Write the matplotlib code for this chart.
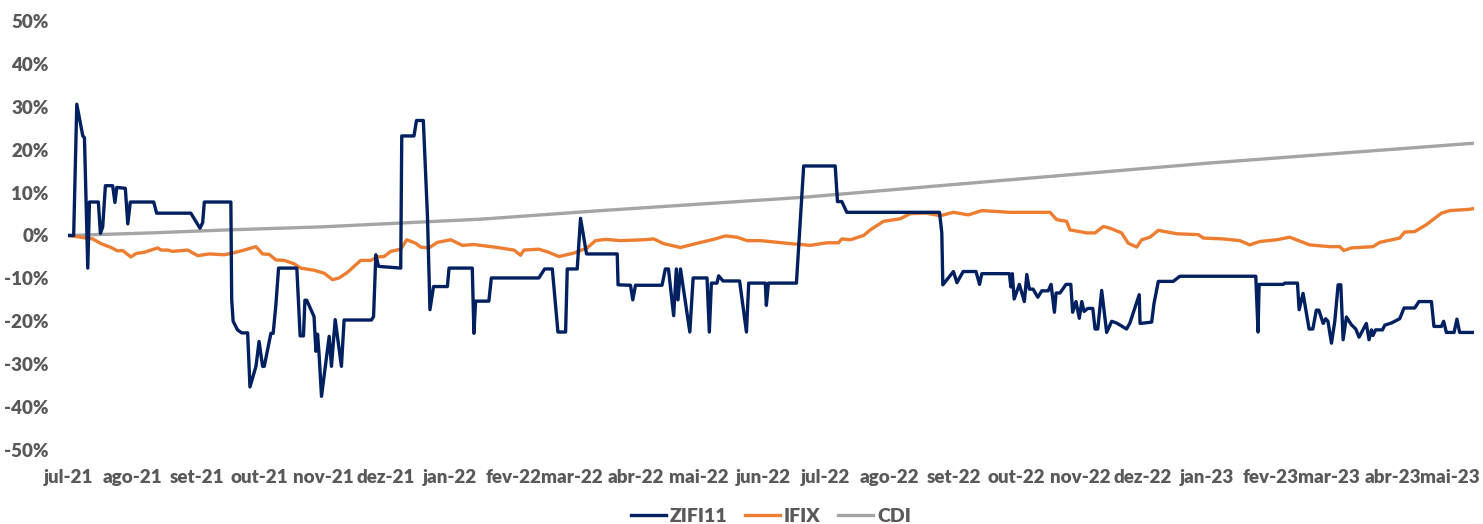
import numpy as np
import pandas as pd
import matplotlib
matplotlib.use('Agg')
import matplotlib.pyplot as plt
import matplotlib.transforms as mtransforms
from matplotlib.ticker import FuncFormatter

plt.rcParams['font.family'] = ['Lato', 'DejaVu Sans']

start = pd.Timestamp('2021-07-01')

# days since 2021-07-01 / return in %
zifi_days = [0.5, 2.7, 4.2, 7.1, 7.9, 9.5, 10.3, 14.6, 15.6, 16.7, 18.0, 21.5, 22.6, 23.5, 27.6,
             28.8, 30.0, 41.3, 42.7, 59.2, 63.6, 64.9, 65.7, 78.5, 78.9, 79.6, 81.7, 83.7, 86.6,
             87.7, 90.6, 92.1, 93.8, 94.6, 97.8, 98.9, 100.2, 101.5, 110.3, 111.9, 113.5, 114.2,
             115.1, 118.6, 119.5, 120.3, 121.0, 122.2, 125.9, 127.0, 128.8, 131.8, 133.1, 146.3,
             147.3, 148.4, 149.7, 160.4, 160.9, 166.8, 168.0, 171.3, 173.3, 174.5, 176.2, 182.9,
             183.7, 194.9, 195.7, 196.5, 202.9, 204.1, 227.0, 229.8, 233.5, 236.2, 239.9, 240.7,
             245.5, 247.1, 250.0, 264.8, 265.2, 271.2, 272.3, 273.6, 286.4, 288.0, 289.5, 292.0,
             293.3, 294.1, 295.3, 299.8, 301.4, 308.1, 309.2, 310.2, 312.9, 313.7, 315.8, 323.8,
             327.1, 328.2, 336.2, 336.7, 337.7, 351.2, 354.7, 369.9, 371.0, 373.1, 375.5, 420.2,
             421.3, 421.8, 426.9, 428.6, 431.6, 432.6, 437.8, 439.5, 440.6, 453.9, 454.6, 455.3,
             456.2, 458.7, 461.1, 462.3, 463.5, 465.3, 467.6, 469.5, 472.6, 474.0, 475.6, 476.4,
             478.3, 481.2, 483.5, 484.4, 486.0, 487.6, 488.8, 489.9, 491.7, 494.1, 495.2, 496.5,
             498.4, 500.8, 503.2, 505.6, 510.4, 512.0, 516.5, 516.9, 522.5, 523.6, 525.7, 532.9,
             536.1, 572.7, 573.8, 574.3, 585.9, 586.7, 592.8, 593.6, 595.5, 598.4, 600.2, 601.9,
             603.1, 605.2, 606.4, 607.5, 609.2, 610.8, 612.4, 613.7, 614.8, 616.4, 617.7, 618.8,
             620.9, 622.5, 626.0, 627.3, 628.5, 629.2, 630.5, 633.8, 634.9, 638.1, 642.1, 644.2,
             649.3, 651.4, 657.4, 658.6, 662.2, 663.3, 664.6, 668.3, 669.7, 671.0, 677.9]
zifi_vals = [0, 0, 30.6, 23.2, 22.8, -7.6, 7.8, 7.8, 0.5, 2.0, 11.6, 11.6, 7.7, 11.2, 11.0,
             2.7, 7.8, 7.8, 5.2, 5.2, 1.7, 3.0, 7.8, 7.8, -15.0, -20.0, -22.0, -22.7, -22.7,
             -35.3, -30.5, -24.7, -30.5, -30.5, -22.8, -22.8, -16.2, -7.6, -7.6, -23.4, -23.4, -15.1,
             -15.1, -18.9, -27.0, -23.0, -27.4, -37.5, -23.5, -30.5, -19.6, -30.5, -19.7, -19.7,
             -18.9, -4.5, -7.2, -7.6, 23.2, 23.2, 26.8, 26.8, 4.4, -17.3, -11.9, -11.9,
             -7.6, -7.6, -22.8, -15.3, -15.3, -9.9, -9.9, -7.8, -7.8, -22.5, -22.5, -7.8,
             -7.8, 4.0, -4.3, -4.3, -11.5, -11.6, -15.0, -11.6, -11.6, -7.8, -7.8, -18.7,
             -7.8, -15.0, -7.8, -22.5, -9.9, -9.9, -22.5, -11.1, -11.1, -9.4, -10.6, -10.6,
             -22.5, -11.1, -11.1, -16.3, -11.1, -11.1, 16.2, 16.2, 7.9, 7.9, 5.4, 5.4,
             0.6, -11.5, -8.4, -11.0, -8.4, -8.4, -8.4, -11.4, -8.9, -8.9, -12.0, -8.9,
             -14.8, -11.4, -15.4, -9.1, -12.5, -12.5, -14.4, -12.9, -12.9, -11.4, -17.9, -13.4,
             -13.4, -11.4, -11.4, -17.9, -15.4, -19.3, -15.4, -17.7, -17.0, -17.0, -21.8, -21.8,
             -12.8, -22.6, -20.0, -20.4, -21.8, -20.4, -13.8, -20.5, -20.2, -15.9, -10.7, -10.7,
             -9.5, -9.5, -22.5, -11.4, -11.4, -11.1, -11.1, -17.3, -13.5, -21.8, -21.8, -17.4,
             -17.4, -20.5, -19.4, -20.0, -25.1, -20.0, -11.5, -11.5, -24.3, -19.0, -20.0, -20.8,
             -21.8, -23.7, -20.5, -24.3, -22.0, -23.3, -22.0, -22.0, -20.9, -20.4, -19.4, -16.9,
             -16.9, -15.4, -15.4, -21.2, -21.2, -20.0, -22.6, -22.6, -19.5, -22.6, -22.6]

ifix_days = [0.5, 8.7, 11.9, 15.9, 20.7, 23.9, 26.3, 30.3, 32.8, 36.8, 43.2, 44.8, 48.0, 50.4,
             57.7, 62.5, 68.1, 75.3, 80.1, 84.9, 90.6, 93.8, 97.0, 100.2, 104.2, 109.0, 112.2,
             118.6, 123.5, 127.5, 130.7, 134.7, 137.9, 141.1, 146.0, 149.2, 152.4, 155.6, 160.4,
             163.3, 167.6, 170.0, 174.0, 178.1, 184.5, 190.1, 195.7, 202.2, 207.0, 215.0, 218.2,
             219.8, 227.0, 231.1, 236.7, 243.9, 250.3, 254.3, 259.2, 266.4, 277.6, 282.4, 287.2,
             295.3, 301.7, 311.3, 317.0, 322.6, 327.4, 333.8, 340.2, 348.3, 357.9, 365.9, 371.5,
             373.1, 377.2, 383.6, 386.8, 393.2, 401.3, 406.1, 414.1, 420.5, 426.9, 434.1, 440.6,
             454.2, 473.5, 476.7, 481.5, 483.1, 491.2, 495.2, 499.2, 502.4, 508.0, 511.2, 515.3,
             517.7, 521.7, 525.7, 534.6, 545.0, 547.4, 557.0, 565.0, 569.8, 574.6, 582.7, 589.1,
             598.7, 608.4, 613.2, 615.1, 618.8, 629.2, 632.5, 642.1, 644.5, 649.3, 654.9, 662.2,
             666.2, 675.8, 677.9]
ifix_vals = [0, -0.6, -0.8, -1.9, -2.8, -3.6, -3.5, -5.0, -4.2, -3.9, -2.9, -3.4, -3.4, -3.7,
             -3.4, -4.7, -4.3, -4.5, -4.0, -3.4, -2.6, -4.3, -4.4, -5.7, -5.8, -6.6, -7.6,
             -8.1, -8.8, -10.3, -9.9, -8.6, -7.2, -5.8, -5.8, -5.0, -4.9, -3.7, -3.2,
             -1.0, -1.8, -2.7, -2.9, -1.6, -1.0, -2.3, -2.1, -2.5, -2.8, -3.4, -4.6,
             -3.4, -3.2, -3.8, -4.9, -4.1, -2.9, -1.2, -0.9, -1.2, -1.0, -0.8, -1.9,
             -2.8, -2.0, -0.9, -0.1, -0.4, -1.2, -1.2, -1.5, -1.9, -2.3, -1.7, -1.7,
             -0.8, -1.0, 0.0, 1.3, 3.3, 3.9, 5.1, 5.2, 4.6, 5.4, 4.8, 5.8,
             5.4, 5.4, 3.7, 3.3, 1.3, 0.6, 0.6, 2.1, 1.7, 0.6, -1.8, -2.7,
             -1.0, -0.4, 1.2, 0.4, 0.2, -0.6, -0.8, -1.2, -2.2, -1.4, -1.0, -0.4,
             -2.2, -2.6, -2.6, -3.5, -2.9, -2.6, -1.6, -0.6, 0.8, 0.9, 2.5, 5.2,
             5.8, 6.1, 6.3]

cdi_days = [0.5, 40, 77, 122, 160, 199, 257, 354.5, 430, 550.6, 677.7]
cdi_vals = [0, 0.6, 1.3, 2.0, 2.9, 3.8, 5.8, 8.9, 12.0, 16.9, 21.5]

month_labels = ['jul-21', 'ago-21', 'set-21', 'out-21', 'nov-21', 'dez-21', 'jan-22', 'fev-22',
                'mar-22', 'abr-22', 'mai-22', 'jun-22', 'jul-22', 'ago-22', 'set-22', 'out-22',
                'nov-22', 'dez-22', 'jan-23', 'fev-23', 'mar-23', 'abr-23', 'mai-23']


def to_dates(days):
    return start + pd.to_timedelta(np.array(days), unit='D')


fig = plt.figure(figsize=(14.83, 5.24), dpi=100)
ax = fig.add_axes([0.0459, 0.1412, 0.948, 0.8188])

ax.plot(to_dates(cdi_days), cdi_vals, color='#A5A5A5', lw=2.4, label='CDI')
ax.plot(to_dates(ifix_days), ifix_vals, color='#ED7D31', lw=2.4, label='IFIX')
ax.plot(to_dates(zifi_days), zifi_vals, color='#002060', lw=2.4, label='ZIFI11')

ax.set_ylim(-50, 50)
ax.set_yticks(np.arange(-50, 51, 10))
ax.yaxis.set_major_formatter(FuncFormatter(lambda v, p: f'{v:.0f}%'))
ax.set_xlim(to_dates([0.2])[0], to_dates([677.9])[0])
ax.set_xticks(pd.date_range('2021-07-01', periods=len(month_labels), freq='MS'))
ax.set_xticklabels(month_labels)

for s in ax.spines.values():
    s.set_visible(False)
ax.tick_params(length=0, labelsize=13.5, labelcolor='#595959')
ax.tick_params(axis='y', pad=14)
ax.tick_params(axis='x', pad=13.5)
for lbl in ax.get_xticklabels() + ax.get_yticklabels():
    lbl.set_fontweight('heavy')
# nudge the last month label so it stays inside the figure
last = ax.get_xticklabels()[-1]
last.set_transform(last.get_transform() + mtransforms.ScaledTranslation(-6 / 100, 0, fig.dpi_scale_trans))

h, l = ax.get_legend_handles_labels()
order = [2, 1, 0]
ax.legend([h[i] for i in order], [l[i] for i in order], loc='center',
          bbox_to_anchor=(0.5, -0.155), ncol=3, frameon=False, handlelength=1.8,
          columnspacing=0.9, handletextpad=0.2,
          prop={'weight': 'heavy', 'size': 14}, labelcolor='#595959')

fig.savefig('out.png', dpi=100)
